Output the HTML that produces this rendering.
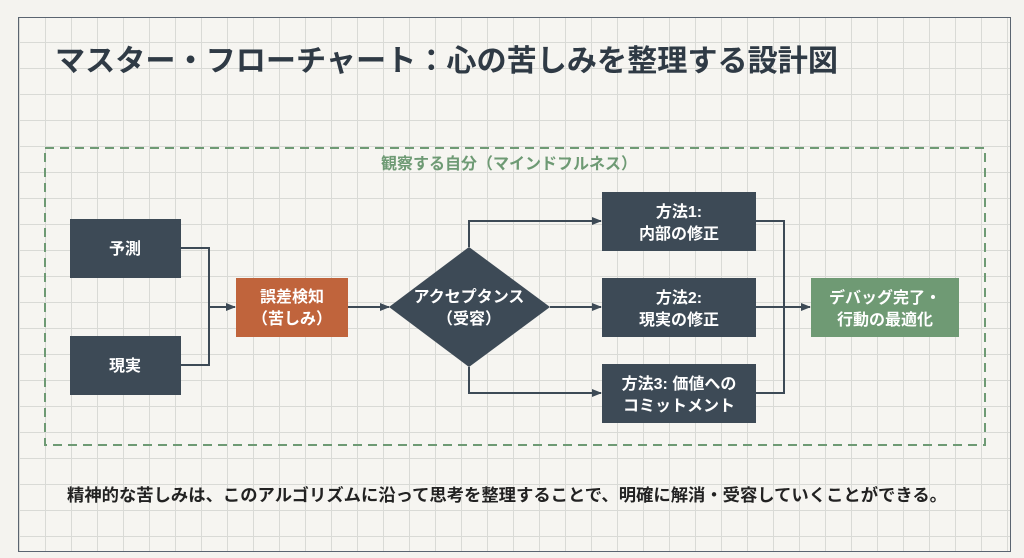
<!DOCTYPE html>
<html><head><meta charset="utf-8"><style>
body{margin:0;width:1024px;height:558px;background:#f4f3ef;font-family:"Liberation Sans","Noto Sans CJK JP",sans-serif;overflow:hidden;position:relative}
.frame{position:absolute;left:18px;top:17px;width:991px;height:533px;border:1.5px solid #5a6470;
background-color:#f6f5f1;background-image:linear-gradient(#d9dad6 1px,transparent 1px),linear-gradient(90deg,#d9dad6 1px,transparent 1px);background-size:26px 26px;background-position:0 -2px}
</style></head><body>
<div class="frame"></div>
<svg width="1024" height="558" style="position:absolute;left:0;top:0" font-family="Liberation Sans, Noto Sans CJK JP, sans-serif">
<defs><marker id="a" markerWidth="10" markerHeight="10" refX="9" refY="5" orient="auto" markerUnits="userSpaceOnUse"><path d="M0,1 L10,5 L0,9z" fill="#3d4a56"/></marker></defs>
<text x="55" y="71" font-size="30" font-weight="bold" fill="#2f3a45" textLength="783" lengthAdjust="spacingAndGlyphs">マスター・フローチャート：心の苦しみを整理する設計図</text>
<rect x="45" y="148" width="940" height="297" fill="none" stroke="#6e9a74" stroke-width="2" stroke-dasharray="9,6"/>
<text x="509" y="169" font-size="16" font-weight="bold" fill="#6e9a74" text-anchor="middle">観察する自分（マインドフルネス）</text>
<g stroke="#3d4a56" stroke-width="2" fill="none">
<path d="M181 248H209V365H181"/><path d="M209 307H235" marker-end="url(#a)"/>
<path d="M348 307H389" marker-end="url(#a)"/>
<path d="M469 247V221H601" marker-end="url(#a)"/>
<path d="M550 307H601" marker-end="url(#a)"/>
<path d="M469 367V393H601" marker-end="url(#a)"/>
<path d="M756 221H784V393H756"/><path d="M756 307H810" marker-end="url(#a)"/>
</g>
<g fill="#3d4a56">
<rect x="70" y="219" width="111" height="59"/><rect x="70" y="336" width="111" height="59"/>
<rect x="602" y="192" width="154" height="59"/><rect x="602" y="278" width="154" height="59"/><rect x="602" y="364" width="154" height="59"/>
<path d="M469 247L550 307L469 367L389 307z"/>
</g>
<rect x="236" y="278" width="112" height="59" fill="#c0643c"/>
<rect x="811" y="278" width="148" height="59" fill="#6f9a74"/>
<g fill="#fff" font-size="16" font-weight="bold" text-anchor="middle">
<text x="125" y="254">予測</text><text x="125" y="371">現実</text>
<text x="292" y="302">誤差検知</text><text x="292" y="324">（苦しみ）</text>
<text x="469" y="302">アクセプタンス</text><text x="469" y="324">（受容）</text>
<text x="679" y="217">方法1:</text><text x="679" y="239">内部の修正</text>
<text x="679" y="303">方法2:</text><text x="679" y="325">現実の修正</text>
<text x="679" y="389">方法3: 価値への</text><text x="679" y="411">コミットメント</text>
<text x="885" y="303">デバッグ完了・</text><text x="885" y="325">行動の最適化</text>
</g>
<text x="67" y="501" font-size="17" font-weight="bold" fill="#222" textLength="880" lengthAdjust="spacingAndGlyphs">精神的な苦しみは、このアルゴリズムに沿って思考を整理することで、明確に解消・受容していくことができる。</text>
</svg>
</body></html>
